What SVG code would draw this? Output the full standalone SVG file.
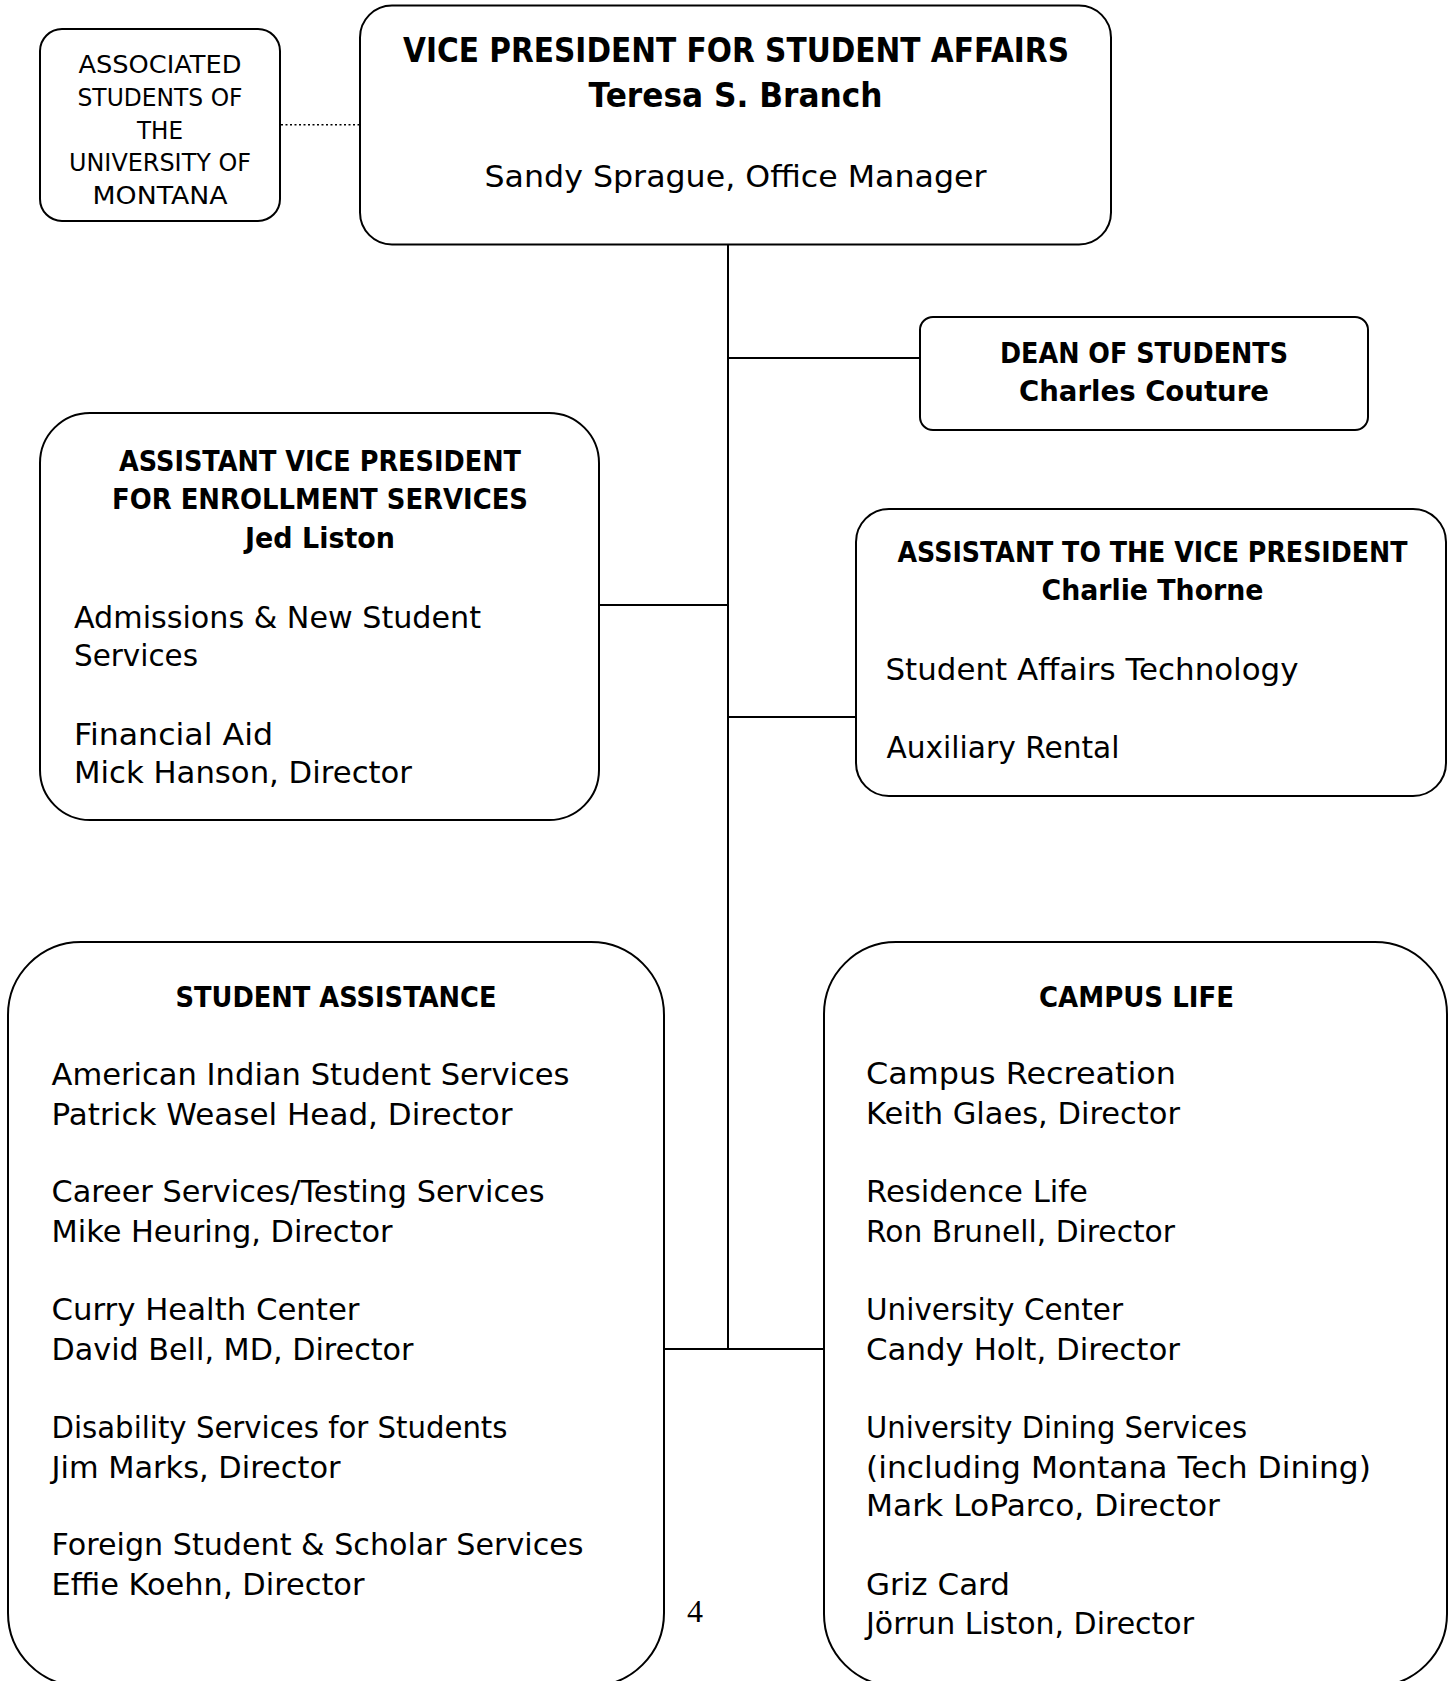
<svg xmlns="http://www.w3.org/2000/svg" width="1455" height="1681" viewBox="0 0 1455 1681">
<style>
.box{fill:#fff;stroke:#000;stroke-width:2}
.ln{fill:none;stroke:#000;stroke-width:2}
.dot{fill:none;stroke:#000;stroke-width:1.5;stroke-dasharray:2 2.5}
text{font-family:"DejaVu Sans","Liberation Sans",sans-serif;fill:#000}
.b{font-weight:bold;font-size:29px;text-anchor:middle}
.t{font-weight:bold;font-size:34px;text-anchor:middle}
.r{font-size:30px}
.c{font-size:30px;text-anchor:middle}
.s{font-size:24px;text-anchor:middle}
.pg{font-family:"Liberation Serif","Times New Roman",serif;font-size:32px;text-anchor:middle}
</style>
<g id="connectors">
<line class="ln" x1="728" y1="244" x2="728" y2="1349"/>
<line class="ln" x1="728" y1="358" x2="920" y2="358"/>
<line class="ln" x1="599" y1="605" x2="728" y2="605"/>
<line class="ln" x1="728" y1="717" x2="856" y2="717"/>
<line class="ln" x1="664" y1="1349" x2="824" y2="1349"/>
<line class="dot" x1="281" y1="124.7" x2="359" y2="124.7"/>
</g>
<g id="asum">
<rect class="box" x="40" y="29" width="240" height="192" rx="22"/>
<text class="s" x="160" y="73" textLength="163" lengthAdjust="spacingAndGlyphs">ASSOCIATED</text>
<text class="s" x="160" y="105.5" textLength="165" lengthAdjust="spacingAndGlyphs">STUDENTS OF</text>
<text class="s" x="160" y="138.5" textLength="46" lengthAdjust="spacingAndGlyphs">THE</text>
<text class="s" x="160" y="170.5" textLength="182" lengthAdjust="spacingAndGlyphs">UNIVERSITY OF</text>
<text class="s" x="160" y="203.5" textLength="135" lengthAdjust="spacingAndGlyphs">MONTANA</text>
</g>
<g id="vp">
<rect class="box" x="360" y="5.5" width="751" height="239" rx="32"/>
<text class="t" x="736" y="62" textLength="666" lengthAdjust="spacingAndGlyphs">VICE PRESIDENT FOR STUDENT AFFAIRS</text>
<text class="t" x="735.5" y="107" textLength="294" lengthAdjust="spacingAndGlyphs">Teresa S. Branch</text>
<text class="c" x="735.5" y="187" textLength="502" lengthAdjust="spacingAndGlyphs">Sandy Sprague, Office Manager</text>
</g>
<g id="dean">
<rect class="box" x="920" y="317" width="448" height="113" rx="13"/>
<text class="b" x="1144" y="363" textLength="288" lengthAdjust="spacingAndGlyphs">DEAN OF STUDENTS</text>
<text class="b" x="1144" y="401" textLength="250" lengthAdjust="spacingAndGlyphs">Charles Couture</text>
</g>
<g id="enrollment">
<rect class="box" x="40" y="413" width="559" height="407" rx="50"/>
<text class="b" x="320" y="470.5" textLength="402" lengthAdjust="spacingAndGlyphs">ASSISTANT VICE PRESIDENT</text>
<text class="b" x="320" y="509" textLength="416" lengthAdjust="spacingAndGlyphs">FOR ENROLLMENT SERVICES</text>
<text class="b" x="320" y="547.5" textLength="150" lengthAdjust="spacingAndGlyphs">Jed Liston</text>
<text class="r" x="74" y="627.5" textLength="407" lengthAdjust="spacingAndGlyphs">Admissions &amp; New Student</text>
<text class="r" x="74" y="666" textLength="124" lengthAdjust="spacingAndGlyphs">Services</text>
<text class="r" x="74" y="744.5" textLength="199" lengthAdjust="spacingAndGlyphs">Financial Aid</text>
<text class="r" x="74" y="783" textLength="338" lengthAdjust="spacingAndGlyphs">Mick Hanson, Director</text>
</g>
<g id="assistant-vp">
<rect class="box" x="856" y="509" width="590" height="287" rx="33"/>
<text class="b" x="1152.5" y="561.5" textLength="510" lengthAdjust="spacingAndGlyphs">ASSISTANT TO THE VICE PRESIDENT</text>
<text class="b" x="1152.5" y="600" textLength="222" lengthAdjust="spacingAndGlyphs">Charlie Thorne</text>
<text class="r" x="885.5" y="680" textLength="413" lengthAdjust="spacingAndGlyphs">Student Affairs Technology</text>
<text class="r" x="886.5" y="758" textLength="233" lengthAdjust="spacingAndGlyphs">Auxiliary Rental</text>
</g>
<g id="student-assistance">
<rect class="box" x="8" y="942" width="656" height="744" rx="73"/>
<text class="b" x="336" y="1006.5" textLength="321" lengthAdjust="spacingAndGlyphs">STUDENT ASSISTANCE</text>
<text class="r" x="51.5" y="1085" textLength="518" lengthAdjust="spacingAndGlyphs">American Indian Student Services</text>
<text class="r" x="51.5" y="1125" textLength="461" lengthAdjust="spacingAndGlyphs">Patrick Weasel Head, Director</text>
<text class="r" x="51.5" y="1202" textLength="493" lengthAdjust="spacingAndGlyphs">Career Services/Testing Services</text>
<text class="r" x="51.5" y="1242" textLength="341" lengthAdjust="spacingAndGlyphs">Mike Heuring, Director</text>
<text class="r" x="51.5" y="1320" textLength="308" lengthAdjust="spacingAndGlyphs">Curry Health Center</text>
<text class="r" x="51.5" y="1360" textLength="362" lengthAdjust="spacingAndGlyphs">David Bell, MD, Director</text>
<text class="r" x="51.5" y="1438" textLength="456" lengthAdjust="spacingAndGlyphs">Disability Services for Students</text>
<text class="r" x="51.5" y="1478" textLength="289" lengthAdjust="spacingAndGlyphs">Jim Marks, Director</text>
<text class="r" x="51.5" y="1555" textLength="532" lengthAdjust="spacingAndGlyphs">Foreign Student &amp; Scholar Services</text>
<text class="r" x="51.5" y="1595" textLength="313" lengthAdjust="spacingAndGlyphs">Effie Koehn, Director</text>
</g>
<g id="campus-life">
<rect class="box" x="824" y="942" width="623" height="744" rx="72"/>
<text class="b" x="1136.5" y="1006.5" textLength="195" lengthAdjust="spacingAndGlyphs">CAMPUS LIFE</text>
<text class="r" x="866" y="1084" textLength="310" lengthAdjust="spacingAndGlyphs">Campus Recreation</text>
<text class="r" x="866" y="1124" textLength="314" lengthAdjust="spacingAndGlyphs">Keith Glaes, Director</text>
<text class="r" x="866" y="1202" textLength="222" lengthAdjust="spacingAndGlyphs">Residence Life</text>
<text class="r" x="866" y="1242" textLength="309" lengthAdjust="spacingAndGlyphs">Ron Brunell, Director</text>
<text class="r" x="866" y="1320" textLength="257" lengthAdjust="spacingAndGlyphs">University Center</text>
<text class="r" x="866" y="1360" textLength="314" lengthAdjust="spacingAndGlyphs">Candy Holt, Director</text>
<text class="r" x="866" y="1438" textLength="381" lengthAdjust="spacingAndGlyphs">University Dining Services</text>
<text class="r" x="866" y="1478" textLength="505" lengthAdjust="spacingAndGlyphs">(including Montana Tech Dining)</text>
<text class="r" x="866" y="1516" textLength="354" lengthAdjust="spacingAndGlyphs">Mark LoParco, Director</text>
<text class="r" x="866" y="1595" textLength="144" lengthAdjust="spacingAndGlyphs">Griz Card</text>
<text class="r" x="866" y="1634" textLength="328" lengthAdjust="spacingAndGlyphs">Jörrun Liston, Director</text>
</g>
<g id="page-number">
<text class="pg" x="695" y="1622">4</text>
</g>
</svg>
